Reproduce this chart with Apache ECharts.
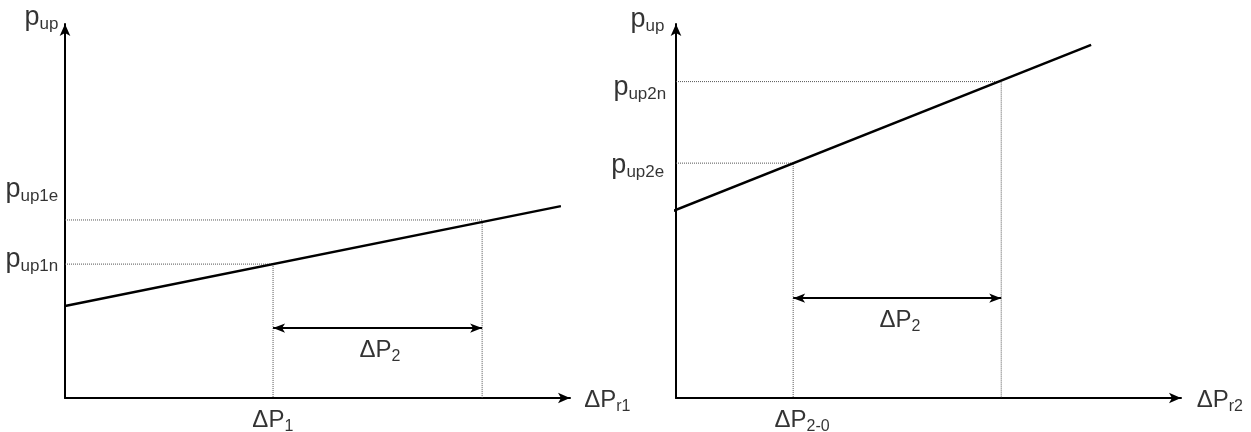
<!DOCTYPE html>
<html><head><meta charset="utf-8">
<script src="https://cdn.jsdelivr.net/npm/echarts@6/dist/echarts.min.js"></script>
<style>html,body{margin:0;padding:0;background:#fff}#c{width:1251px;height:432px}</style>
</head><body><div id="c"></div>
<script>
// ---- data (schematic units 0..100 on each panel) ----
const leftLine = [[0, 24.6], [98.2, 51.3]];
const leftGuides = [[41.2, 35.8], [82.6, 47.6]];      // ΔP1 / p_up1n , ΔP1+ΔP2 / p_up1e
const leftSpan = [41.2, 82.6, 18.7];                  // ΔP2 arrow: from, to, height
const rightLine = [[-0.6, 50.0], [82.2, 94.4]];
const rightGuides = [[23.2, 62.8], [64.4, 84.6]];     // ΔP2-0 / p_up2e , end / p_up2n
const rightSpan = [23.2, 64.4, 26.7];
const leftLabels = [
  ['p', 'up', -7.9, 101.6],
  ['p', 'up1e', -11.7, 55.6],
  ['p', 'up1n', -11.7, 36.9],
  ['ΔP', '1', 37.2, -6.1],
  ['ΔP', 'r1', 102.9, -0.8],
  ['ΔP', '2', 58.4, 12.6]
];
const rightLabels = [
  ['p', 'up', -8.9, 101.1],
  ['p', 'up2n', -12.3, 82.9],
  ['p', 'up2e', -12.7, 62.0],
  ['ΔP', '2-0', 19.6, -6.1],
  ['ΔP', 'r2', 103.2, -0.8],
  ['ΔP', '2', 40.4, 20.6]
];

const FONT = '"Liberation Sans", Arial, sans-serif';
function axis(gi) {
  return {
    gridIndex: gi, type: 'value', min: 0, max: 100,
    axisLine: { show: true, onZero: false, symbol: ['none', 'arrow'], symbolSize: [8, 12],
      lineStyle: { color: '#000', width: 2 } },
    axisTick: { show: false }, axisLabel: { show: false }, splitLine: { show: false }
  };
}
function panel(gi, line, guides, span, labels) {
  const out = [];
  out.push({ type: 'line', xAxisIndex: gi, yAxisIndex: gi, data: line, symbol: 'none', silent: true,
    lineStyle: { color: '#000', width: 2.5 }, z: 5 });
  guides.forEach((g, i) => {
    const s = { type: 'line', xAxisIndex: gi, yAxisIndex: gi, symbol: 'none', silent: true,
      data: [[0, g[1]], [g[0], g[1]], [g[0], 0]],
      lineStyle: { color: '#555', width: 1, type: 'dotted' }, z: 3 };
    if (i === 0) {
      s.markLine = { silent: true, symbol: ['arrow', 'arrow'], symbolSize: [7, 12], animation: false,
        label: { show: false }, lineStyle: { color: '#000', width: 2, type: 'solid' },
        data: [[{ coord: [span[0], span[2]] }, { coord: [span[1], span[2]] }]] };
    }
    out.push(s);
  });
  out.push({ type: 'scatter', xAxisIndex: gi, yAxisIndex: gi, silent: true, clip: false,
    symbolSize: 1, itemStyle: { color: 'transparent' },
    data: labels.map(l => {
      const k = l[0] === 'p' ? 'p' : 'd';
      return { name: '{' + k + 'm|' + l[0] + '}{' + k + 's|' + l[1] + '}', value: [l[2], l[3]] };
    }),
    label: { show: true, position: [0, 0], align: 'left', verticalAlign: 'middle',
      formatter: p => p.name,
      rich: {
        pm: { fontFamily: FONT, fontSize: 27, color: '#000', lineHeight: 30 },
        ps: { fontFamily: FONT, fontSize: 17, color: '#000', lineHeight: 18, verticalAlign: 'bottom' },
        dm: { fontFamily: FONT, fontSize: 24, color: '#000', lineHeight: 28 },
        ds: { fontFamily: FONT, fontSize: 16, color: '#000', lineHeight: 16, verticalAlign: 'bottom' }
      } } });
  return out;
}
const chart = echarts.init(document.getElementById('c'), null, { renderer: 'canvas' });
chart.setOption({
  animation: false,
  backgroundColor: '#fff',
  grid: [
    { left: 65, top: 24, width: 505, height: 374 },
    { left: 676, top: 24, width: 505, height: 374 }
  ],
  xAxis: [axis(0), axis(1)],
  yAxis: [axis(0), axis(1)],
  series: [].concat(panel(0, leftLine, leftGuides, leftSpan, leftLabels),
                    panel(1, rightLine, rightGuides, rightSpan, rightLabels))
});
</script></body></html>
